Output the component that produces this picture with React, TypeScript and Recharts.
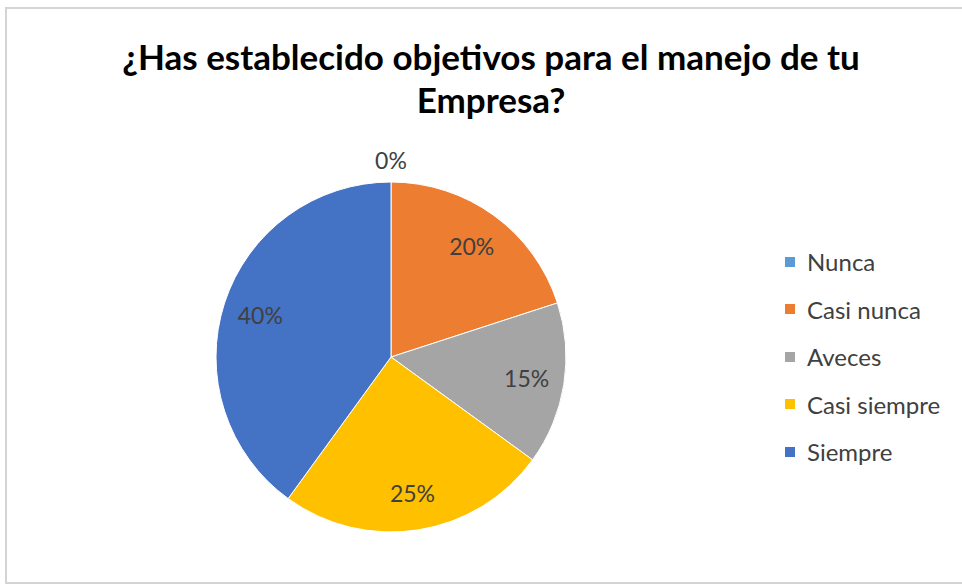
import React from 'react';
import { PieChart, Pie, Cell, Legend } from 'recharts';

const categories = ['Nunca', 'Casi nunca', 'Aveces', 'Casi siempre', 'Siempre'];
const shares = [0, 20, 15, 25, 40];
const colors = ['#5B9BD5', '#ED7D31', '#A5A5A5', '#FFC000', '#4472C4'];
const title = ['¿Has establecido objetivos para el manejo de tu', 'Empresa?'];

const data = categories.map((name, i) => ({ name, value: shares[i] }));
const FONT = 'Lato, "Noto Sans", sans-serif';
const RAD = Math.PI / 180;

const renderLabel = (props: any) => {
    const { cx, cy, midAngle, outerRadius, value } = props;
    const r = value === 0 ? outerRadius + 22 : outerRadius * 0.785;
    const x = cx + r * Math.cos(-midAngle * RAD);
    const y = cy + r * Math.sin(-midAngle * RAD);
    return (
        <text x={x} y={y} fill="#404040" fontSize={23} fontFamily={FONT} textAnchor="middle" dominantBaseline="central">
            {`${value}%`}
        </text>
    );
};

// keep legend in data order (recharts sorts by name otherwise)
const renderLegend = (props: any) => {
    const items = [...props.payload].sort(
        (a: any, b: any) => categories.indexOf(a.value) - categories.indexOf(b.value)
    );
    return (
        <div style={{ fontFamily: FONT }}>
            {items.map((entry: any, i: number) => (
                <div key={`leg-${i}`} style={{ display: 'flex', alignItems: 'center', height: 47.5 }}>
                    <span style={{ width: 10, height: 10, background: entry.color, marginRight: 12, display: 'inline-block' }} />
                    <span style={{ fontSize: 24, color: '#404040' }}>{entry.value}</span>
                </div>
            ))}
        </div>
    );
};

export default function App() {
    return (
        <div style={{ position: 'absolute', left: 0, top: 0, width: 962, height: 587, background: '#fff', overflow: 'hidden' }}>
            <div style={{ position: 'absolute', left: 5, top: 7, width: 970, height: 577, border: '2px solid #d4d4d4', boxSizing: 'border-box' }} />
            <div style={{ position: 'absolute', left: 0, top: 35, width: 982, textAlign: 'center', fontFamily: FONT, fontWeight: 700, fontSize: 35, lineHeight: '43px', color: '#000' }}>
                {title.map((t, i) => <div key={i}>{t}</div>)}
            </div>
            <div style={{ position: 'absolute', left: 0, top: 0 }}>
                <PieChart width={962} height={587}>
                    <Pie
                        data={data}
                        dataKey="value"
                        nameKey="name"
                        cx={386}
                        cy={352}
                        outerRadius={175}
                        startAngle={90}
                        endAngle={-270}
                        stroke="#fff"
                        strokeWidth={1}
                        label={renderLabel}
                        labelLine={false}
                        isAnimationActive={false}
                    >
                        {data.map((d, i) => (
                            <Cell key={`cell-${i}`} fill={colors[i]} />
                        ))}
                    </Pie>
                    <Legend
                        layout="vertical"
                        align="right"
                        verticalAlign="top"
                        content={renderLegend}
                        wrapperStyle={{ left: 785, top: 238, width: 175 }}
                    />
                </PieChart>
            </div>
        </div>
    );
}
